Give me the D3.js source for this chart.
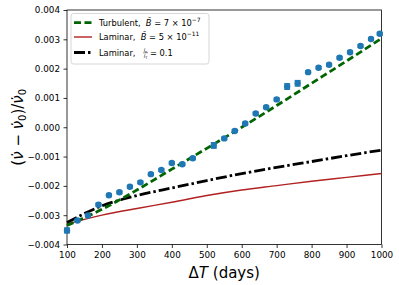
<!DOCTYPE html>
<html>
<head>
<meta charset="utf-8">
<script src="https://cdn.jsdelivr.net/npm/d3@7"></script>
<style>
  body { margin: 0; background: #fff; }
  svg { display: block; font-family: "DejaVu Sans", sans-serif; }
</style>
</head>
<body>
<div id="chart"></div>
<script>
// observed points (days, fractional change, error)
const days = [100, 130, 160, 190, 220, 250, 280, 310, 340, 370, 400, 430, 460,
              520, 550, 580, 610, 640, 670, 700, 730, 760, 790, 820, 850, 880, 910, 940, 970, 995];
const obs = [-0.00352, -0.00318, -0.00301, -0.00264, -0.00232, -0.00222, -0.00203, -0.00188,
             -0.00160, -0.00146, -0.00122, -0.00126, -0.00106, -0.00062, -0.00038, -0.00013,
             0.00013, 0.00047, 0.00068, 0.00095, 0.00139, 0.00150, 0.00188, 0.00203, 0.00213,
             0.00237, 0.00256, 0.00277, 0.00301, 0.00319];
const obsErr = [0.00008, 0.00004, 0.00004, 0.00004, 0.00004, 0.00004, 0.00004, 0.00004,
                0.00004, 0.00004, 0.00004, 0.00004, 0.00004, 0.00009, 0.00004, 0.00004,
                0.00004, 0.00004, 0.00004, 0.00004, 0.00009, 0.00009, 0.00004, 0.00004, 0.00004,
                0.00004, 0.00004, 0.00004, 0.00004, 0.00004];

// model curves
const curveDays = [100, 200, 300, 400, 500, 600, 700, 800, 900, 1000];
const turbulent = [-0.00335, -0.00280, -0.00214, -0.00143, -0.00072, 0.00000, 0.00074, 0.00150, 0.00226, 0.00303];
const laminarB = [-0.00330, -0.00300, -0.00277, -0.00256, -0.00233, -0.00214, -0.00199, -0.00184, -0.00171, -0.00158];
const laminarL = [-0.00325, -0.00268, -0.00233, -0.00207, -0.00182, -0.00158, -0.00137, -0.00117, -0.00097, -0.00078];

const xTicks = [100, 200, 300, 400, 500, 600, 700, 800, 900, 1000];
const yTicks = [-0.004, -0.003, -0.002, -0.001, 0, 0.001, 0.002, 0.003, 0.004];

const width = 399, height = 285;
const margin = { top: 10, right: 17.5, bottom: 40.5, left: 67 };

const svg = d3.select("#chart").append("svg")
    .attr("width", width)
    .attr("height", height);

const x = d3.scaleLinear().domain([100, 1000]).range([margin.left, width - margin.right]);
const y = d3.scaleLinear().domain([-0.004, 0.004]).range([height - margin.bottom, margin.top]);

const fmt = d => d3.format(".3f")(d).replace("-", "\u2212");

// axes
const xAxis = d3.axisBottom(x).tickValues(xTicks).tickSize(3.5).tickPadding(3.5).tickFormat(d3.format("d"));
const yAxis = d3.axisLeft(y).tickValues(yTicks).tickSize(3.5).tickPadding(3.5).tickFormat(fmt);

const gx = svg.append("g")
    .attr("transform", `translate(0,${height - margin.bottom})`)
    .call(xAxis);
const gy = svg.append("g")
    .attr("transform", `translate(${margin.left},0)`)
    .call(yAxis);
[gx, gy].forEach(g => {
    g.select(".domain").remove();
    g.selectAll("text").attr("font-size", 8.8).attr("font-family", "DejaVu Sans").attr("fill", "#000");
    g.selectAll("line").attr("stroke", "#000").attr("stroke-width", 0.8);
});

// frame
svg.append("rect")
    .attr("x", margin.left)
    .attr("y", margin.top)
    .attr("width", width - margin.left - margin.right)
    .attr("height", height - margin.top - margin.bottom)
    .attr("fill", "none")
    .attr("stroke", "#000")
    .attr("stroke-width", 0.8);

const line = d3.line()
    .x(d => x(d[0]))
    .y(d => y(d[1]))
    .curve(d3.curveMonotoneX);

svg.append("path")
    .datum(curveDays.map((d, i) => [d, laminarB[i]]))
    .attr("d", line)
    .attr("fill", "none")
    .attr("stroke", "#b22222")
    .attr("stroke-width", 1.4);

svg.append("path")
    .datum(curveDays.map((d, i) => [d, laminarL[i]]))
    .attr("d", line)
    .attr("fill", "none")
    .attr("stroke", "#000")
    .attr("stroke-width", 2.8)
    .attr("stroke-dasharray", "11,3,2.5,3");

svg.append("path")
    .datum(curveDays.map((d, i) => [d, turbulent[i]]))
    .attr("d", line)
    .attr("fill", "none")
    .attr("stroke", "#006400")
    .attr("stroke-width", 2.8)
    .attr("stroke-dasharray", "7,3.5");

// data with error bars
const pts = svg.append("g")
    .selectAll("g")
    .data(days.map((d, i) => ({ t: d, v: obs[i], e: obsErr[i] })))
    .enter()
    .append("g");

pts.append("line")
    .attr("x1", d => x(d.t)).attr("x2", d => x(d.t))
    .attr("y1", d => y(d.v - d.e)).attr("y2", d => y(d.v + d.e))
    .attr("stroke", "#1f77b4").attr("stroke-width", 1.5);
pts.append("line")
    .attr("x1", d => x(d.t) - 3).attr("x2", d => x(d.t) + 3)
    .attr("y1", d => y(d.v - d.e)).attr("y2", d => y(d.v - d.e))
    .attr("stroke", "#1f77b4").attr("stroke-width", 1.5);
pts.append("line")
    .attr("x1", d => x(d.t) - 3).attr("x2", d => x(d.t) + 3)
    .attr("y1", d => y(d.v + d.e)).attr("y2", d => y(d.v + d.e))
    .attr("stroke", "#1f77b4").attr("stroke-width", 1.5);
pts.append("circle")
    .attr("cx", d => x(d.t))
    .attr("cy", d => y(d.v))
    .attr("r", 3.2)
    .attr("fill", "#1f77b4");

// axis labels
const xl = svg.append("text")
    .attr("x", (margin.left + width - margin.right) / 2)
    .attr("y", 278)
    .attr("text-anchor", "middle")
    .attr("font-size", 15);
xl.append("tspan").text("\u0394");
xl.append("tspan").attr("font-style", "italic").text("T");
xl.append("tspan").text(" (days)");

const yl = svg.append("text")
    .attr("transform", `translate(23,${(margin.top + height - margin.bottom) / 2}) rotate(-90)`)
    .attr("text-anchor", "middle")
    .attr("font-size", 15);
yl.append("tspan").text("(");
yl.append("tspan").attr("font-style", "italic").text("\u03BD\u0307");
yl.append("tspan").text(" \u2212 ");
yl.append("tspan").attr("font-style", "italic").text("\u03BD\u0307");
yl.append("tspan").attr("font-size", 10).attr("dy", 3).text("0");
yl.append("tspan").attr("dy", -3).text(")/");
yl.append("tspan").attr("font-style", "italic").text("\u03BD\u0307");
yl.append("tspan").attr("font-size", 10).attr("dy", 3).text("0");

// legend
const lg = svg.append("g");
lg.append("rect")
    .attr("x", 71).attr("y", 13.5)
    .attr("width", 138).attr("height", 50.5)
    .attr("rx", 2.5)
    .attr("fill", "#fff").attr("fill-opacity", 0.8)
    .attr("stroke", "#ccc").attr("stroke-width", 0.8);

const rows = [22.7, 37, 52.5];
const styles = [
    { c: "#006400", w: 2.8, dash: "7,3.5" },
    { c: "#b22222", w: 1.4, dash: null },
    { c: "#000", w: 2.8, dash: "11,3,2.5,3" }
];
styles.forEach((s, i) => {
    lg.append("line")
        .attr("x1", 74).attr("x2", 92)
        .attr("y1", rows[i]).attr("y2", rows[i])
        .attr("stroke", s.c).attr("stroke-width", s.w)
        .attr("stroke-dasharray", s.dash);
});

const fs = 8.3;
const t1 = lg.append("text").attr("x", 99).attr("y", rows[0] + 3).attr("font-size", fs);
t1.append("tspan").text("Turbulent,\u00A0\u00A0");
t1.append("tspan").attr("font-style", "italic").text("B\u0304");
t1.append("tspan").text(" = 7 \u00D7 10");
t1.append("tspan").attr("font-size", 6).attr("dy", -4).text("\u22127");

const t2 = lg.append("text").attr("x", 99).attr("y", rows[1] + 3).attr("font-size", fs);
t2.append("tspan").text("Laminar,\u00A0\u00A0");
t2.append("tspan").attr("font-style", "italic").text("B\u0304");
t2.append("tspan").text(" = 5 \u00D7 10");
t2.append("tspan").attr("font-size", 6).attr("dy", -4).text("\u221211");

const t3 = lg.append("text").attr("x", 99).attr("y", rows[2] + 3).attr("font-size", fs);
t3.append("tspan").text("Laminar,");
// small fraction l_n / l_T
const fx = 145.5;
const num = lg.append("text").attr("x", fx).attr("y", rows[2] - 1).attr("text-anchor", "middle").attr("font-size", 5);
num.append("tspan").attr("font-style", "italic").text("l");
num.append("tspan").attr("font-size", 3.5).attr("dy", 1).text("n");
const den = lg.append("text").attr("x", fx).attr("y", rows[2] + 5).attr("text-anchor", "middle").attr("font-size", 5);
den.append("tspan").attr("font-style", "italic").text("l");
den.append("tspan").attr("font-size", 3.5).attr("dy", 1).text("T");
lg.append("line")
    .attr("x1", fx - 2.5).attr("x2", fx + 2.5)
    .attr("y1", rows[2] + 0.3).attr("y2", rows[2] + 0.3)
    .attr("stroke", "#000").attr("stroke-width", 0.4);
lg.append("text").attr("x", 150).attr("y", rows[2] + 3).attr("font-size", fs).text("= 0.1");
</script>
</body>
</html>
